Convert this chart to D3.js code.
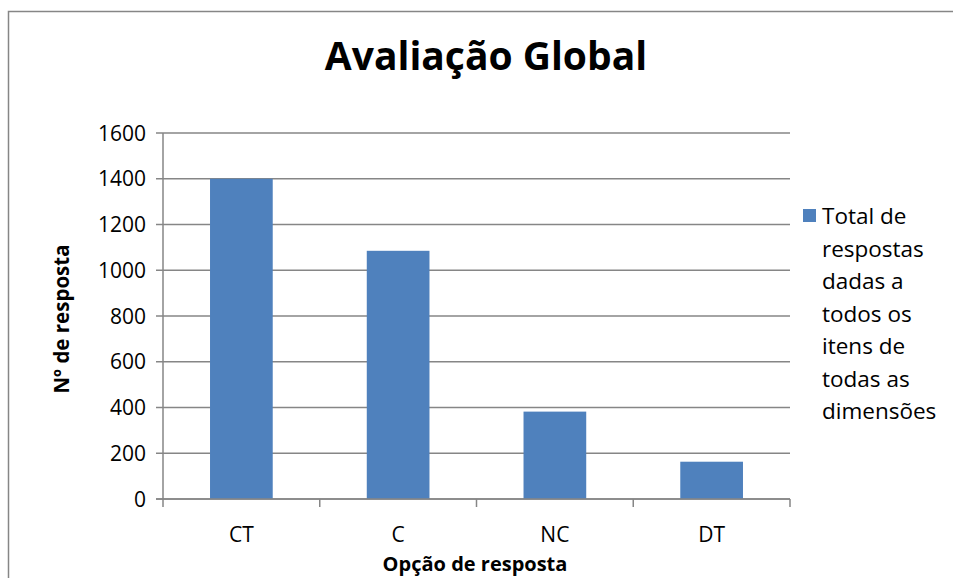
<!DOCTYPE html>
<html>
<head>
<meta charset="utf-8">
<script src="https://cdn.jsdelivr.net/npm/d3@7"></script>
<style>
  body { margin: 0; background: #fff; }
  text { font-family: "Open Sans", sans-serif; fill: #000; }
</style>
</head>
<body>
<svg id="chart"></svg>
<script>
// data
var categories = ['CT', 'C', 'NC', 'DT'];
var values = [1400, 1085, 382, 163];
var yTicks = [0, 200, 400, 600, 800, 1000, 1200, 1400, 1600];
var legendLines = ['Total de', 'respostas', 'dadas a', 'todos os', 'itens de', 'todas as', 'dimensões'];

var width = 953;
var height = 578;
var plot = {left: 163, right: 790, top: 133, bottom: 499};
var gridColor = '#868686';
var barColor = '#4f81bd';

var svg = d3.select('#chart')
  .attr('width', width)
  .attr('height', height);

// outer frame
svg.append('rect')
  .attr('x', 8.5)
  .attr('y', 11.5)
  .attr('width', width + 10)
  .attr('height', height + 10)
  .style('fill', 'none')
  .style('stroke', gridColor)
  .style('stroke-width', 1.5);

// scales
var x = d3.scaleBand()
  .domain(categories)
  .range([plot.left, plot.right])
  .paddingInner(0.6)
  .paddingOuter(0.3);
var y = d3.scaleLinear()
  .domain([0, 1600])
  .range([plot.bottom, plot.top]);

// gridlines
svg.append('g')
  .selectAll('line')
  .data(yTicks)
  .enter()
  .append('line')
  .attr('x1', plot.left - 7)
  .attr('x2', plot.right)
  .attr('y1', function(d) { return y(d); })
  .attr('y2', function(d) { return y(d); })
  .style('stroke', gridColor)
  .style('stroke-width', 1.5);

// y labels
svg.append('g')
  .selectAll('text')
  .data(yTicks)
  .enter()
  .append('text')
  .attr('x', plot.left - 17)
  .attr('y', function(d) { return y(d); })
  .attr('dy', '0.36em')
  .attr('text-anchor', 'end')
  .style('font-size', '21px')
  .text(function(d) { return d; });

// bars
svg.append('g')
  .selectAll('rect')
  .data(values)
  .enter()
  .append('rect')
  .attr('x', function(d, i) { return x(categories[i]); })
  .attr('y', function(d) { return y(d); })
  .attr('width', x.bandwidth())
  .attr('height', function(d) { return y(0) - y(d); })
  .style('fill', barColor);

// y axis line
svg.append('line')
  .attr('x1', plot.left)
  .attr('x2', plot.left)
  .attr('y1', plot.top)
  .attr('y2', plot.bottom + 8)
  .style('stroke', gridColor)
  .style('stroke-width', 1.5);

// x axis line + boundary ticks
svg.append('line')
  .attr('x1', plot.left - 7)
  .attr('x2', plot.right)
  .attr('y1', plot.bottom)
  .attr('y2', plot.bottom)
  .style('stroke', gridColor)
  .style('stroke-width', 1.5);
var step = x.step();
svg.append('g')
  .selectAll('line')
  .data(categories)
  .enter()
  .append('line')
  .attr('x1', function(d) { return x(d) - x.paddingOuter() * step + step; })
  .attr('x2', function(d) { return x(d) - x.paddingOuter() * step + step; })
  .attr('y1', plot.bottom)
  .attr('y2', plot.bottom + 8)
  .style('stroke', gridColor)
  .style('stroke-width', 1.5);

// x labels
svg.append('g')
  .selectAll('text')
  .data(categories)
  .enter()
  .append('text')
  .attr('x', function(d) { return x(d) + x.bandwidth() / 2; })
  .attr('y', 542)
  .attr('text-anchor', 'middle')
  .style('font-size', '21px')
  .text(function(d) { return d; });

// title
svg.append('text')
  .attr('x', 486)
  .attr('y', 70)
  .attr('text-anchor', 'middle')
  .style('font-size', '39px')
  .style('font-weight', 'bold')
  .text('Avaliação Global');

// axis titles
svg.append('text')
  .attr('x', 475)
  .attr('y', 571)
  .attr('text-anchor', 'middle')
  .style('font-size', '20px')
  .style('font-weight', 'bold')
  .text('Opção de resposta');
svg.append('text')
  .attr('transform', 'translate(69,319) rotate(-90)')
  .attr('text-anchor', 'middle')
  .style('font-size', '20.5px')
  .style('font-weight', 'bold')
  .text('Nº de resposta');

// legend
var legend = svg.append('g');
legend.append('rect')
  .attr('x', 803)
  .attr('y', 209)
  .attr('width', 13)
  .attr('height', 13)
  .style('fill', barColor);
legend.selectAll('text')
  .data(legendLines)
  .enter()
  .append('text')
  .attr('x', 822)
  .attr('y', function(d, i) { return 224 + i * 32.5; })
  .style('font-size', '22.5px')
  .text(function(d) { return d; });
</script>
</body>
</html>
